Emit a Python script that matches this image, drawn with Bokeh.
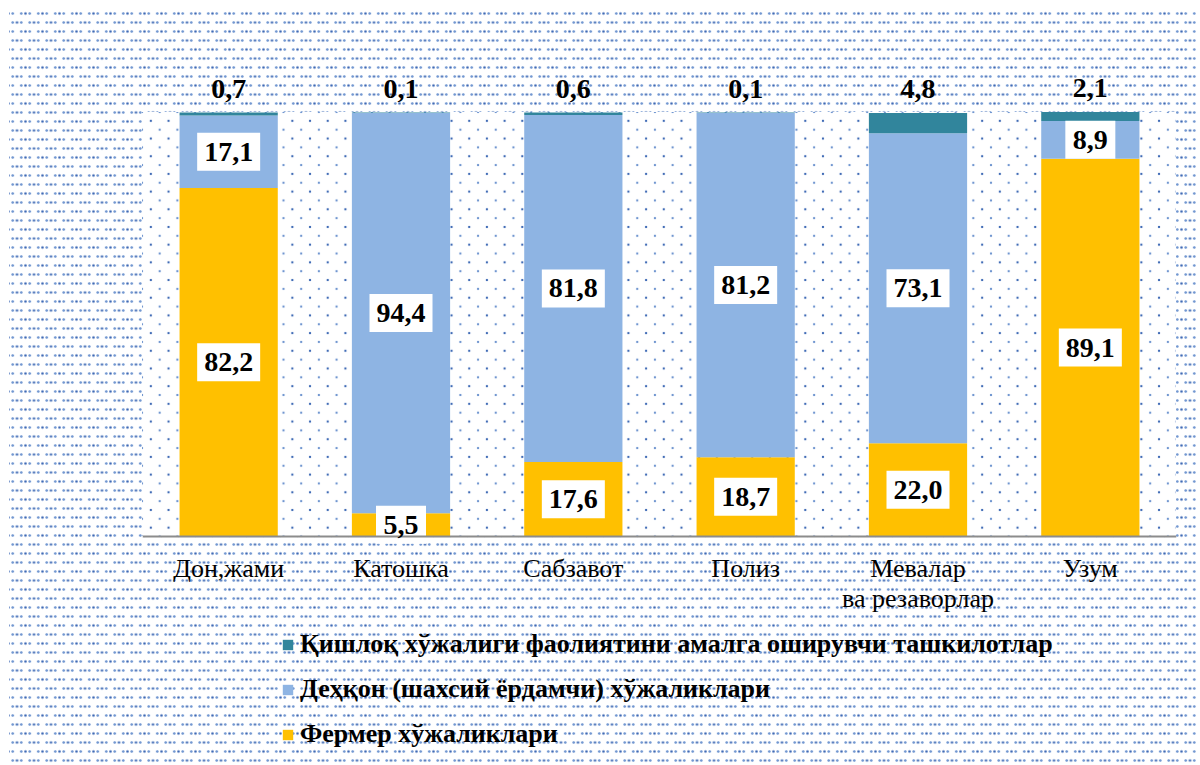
from bokeh.plotting import figure
from bokeh.models import (ColumnDataSource, FactorRange, Range1d, LabelSet, Legend,
                          LegendItem, InlineStyleSheet)
from bokeh.embed import file_html
from bokeh.resources import INLINE

# ---- data ----
categories = ["Дон,жами", "Катошка", "Сабзавот", "Полиз", "Мевалар\nва резаворлар", "Узум"]
fermer = [82.2, 5.5, 17.6, 18.7, 22.0, 89.1]
dehqon = [17.1, 94.4, 81.8, 81.2, 73.1, 8.9]
tashkilot = [0.7, 0.1, 0.6, 0.1, 4.8, 2.1]
series_keys = ["fermer", "dehqon", "tashkilot"]
series_names = ["Фермер хўжаликлари",
                "Деҳқон (шахсий ёрдамчи) хўжаликлари",
                "Қишлоқ хўжалиги фаолиятини амалга оширувчи ташкилотлар"]
colors = ["#FFC000", "#8EB4E3", "#31859C"]


def fmt(v):
    return f"{v:.1f}".replace(".", ",")


src = ColumnDataSource(dict(cat=categories, fermer=fermer, dehqon=dehqon, tashkilot=tashkilot))

W, H = 1198, 764
p = figure(x_range=FactorRange(*categories), y_range=Range1d(-53.77, 126.415),
           width=W, height=H, output_backend="svg", toolbar_location=None,
           min_border_left=142, min_border_right=W - 1176, min_border_top=0, min_border_bottom=0)
p.border_fill_color = None
p.background_fill_color = None
p.outline_line_color = None

dense = "rgba(88,132,200,0.85)"
dark = "rgba(55,100,178,0.95)"
white = "linear-gradient(#ffffff, #ffffff)"


def dot(c, r=0.9):
    return f"radial-gradient(circle, {c} {r}px, transparent {r + 0.7}px)"


p.styles = {
    "position": "relative",
    "isolation": "isolate",
    "background-color": "white",
    "background-image": ", ".join([white, white, white, dot(dense), dot(dark), dot(dark)]),
    "background-size": "100% 11px, 9px 100%, 2px 100%, 8.5px 9px, 17px 18px, 17px 18px",
    "background-position": "0px 0px, 0px 0px, 100% 0px, 0px 0px, 0px 4.5px, 8.5px 13.5px",
    "background-repeat": "no-repeat, no-repeat, no-repeat, repeat, repeat, repeat",
}
inner_css = f"""
:host::before {{
  content: "";
  position: absolute;
  left: 142px; top: 112px; width: 1034px; height: 424px;
  z-index: -1;
  background-color: white;
  background-image: {dot(dark)}, {dot(dense)};
  background-size: 17.7px 17.7px, 17.7px 17.7px;
  background-position: 0px 0px, 8.85px 8.85px;
}}
"""
p.stylesheets = [InlineStyleSheet(css=inner_css)]

rs = p.vbar_stack(series_keys, x="cat", width=0.57, color=colors, line_color=None, source=src)

# inner labels (white boxes)
in_x, in_y, in_t = [], [], []
for c, f, d in zip(categories, fermer, dehqon):
    in_x += [c, c]
    in_y += [f / 2, f + d / 2]
    in_t += [fmt(f), fmt(d)]
box_w = [13 * len(t) + 11 for t in in_t]
lab_src = ColumnDataSource(dict(x=in_x, y=in_y, t=in_t, w=box_w))
p.rect(x="x", y="y", width="w", height=38, width_units="screen", height_units="screen",
       fill_color="white", line_color=None, source=lab_src)
p.add_layout(LabelSet(x="x", y="y", text="t", source=lab_src, text_align="center",
                      text_baseline="middle", text_font="Liberation Serif", text_font_style="bold",
                      text_font_size="28px", text_color="black"))

# top labels
top_src = ColumnDataSource(dict(x=categories,
                                y=[f + d + t for f, d, t in zip(fermer, dehqon, tashkilot)],
                                t=[fmt(t) for t in tashkilot]))
p.add_layout(LabelSet(x="x", y="y", text="t", source=top_src, text_align="center",
                      text_baseline="alphabetic", y_offset=15, text_font="Liberation Serif",
                      text_font_style="bold", text_font_size="28px", text_color="black"))

p.yaxis.visible = False
p.xgrid.visible = False
p.ygrid.visible = False
ax = p.xaxis[0]
ax.fixed_location = 0
ax.axis_line_color = "#8c8c8c"
ax.axis_line_width = 2
ax.major_tick_line_color = None
ax.minor_tick_line_color = None
ax.major_label_standoff = 11
ax.major_label_text_font = "Liberation Serif"
ax.major_label_text_font_size = "26px"
ax.major_label_text_line_height = 1.05
ax.major_label_text_color = "black"

legend = Legend(items=[LegendItem(label=series_names[i], renderers=[rs[i]]) for i in (2, 1, 0)],
                location=(139, 15), orientation="vertical",
                label_text_font="Liberation Serif", label_text_font_style="bold",
                label_text_font_size="26px", label_text_color="black",
                glyph_width=13, glyph_height=13, label_height=28, label_standoff=6, spacing=15,
                padding=0, margin=0, background_fill_alpha=0, border_line_color=None)
p.add_layout(legend)

open("out.html", "w").write(file_html(p, INLINE))
